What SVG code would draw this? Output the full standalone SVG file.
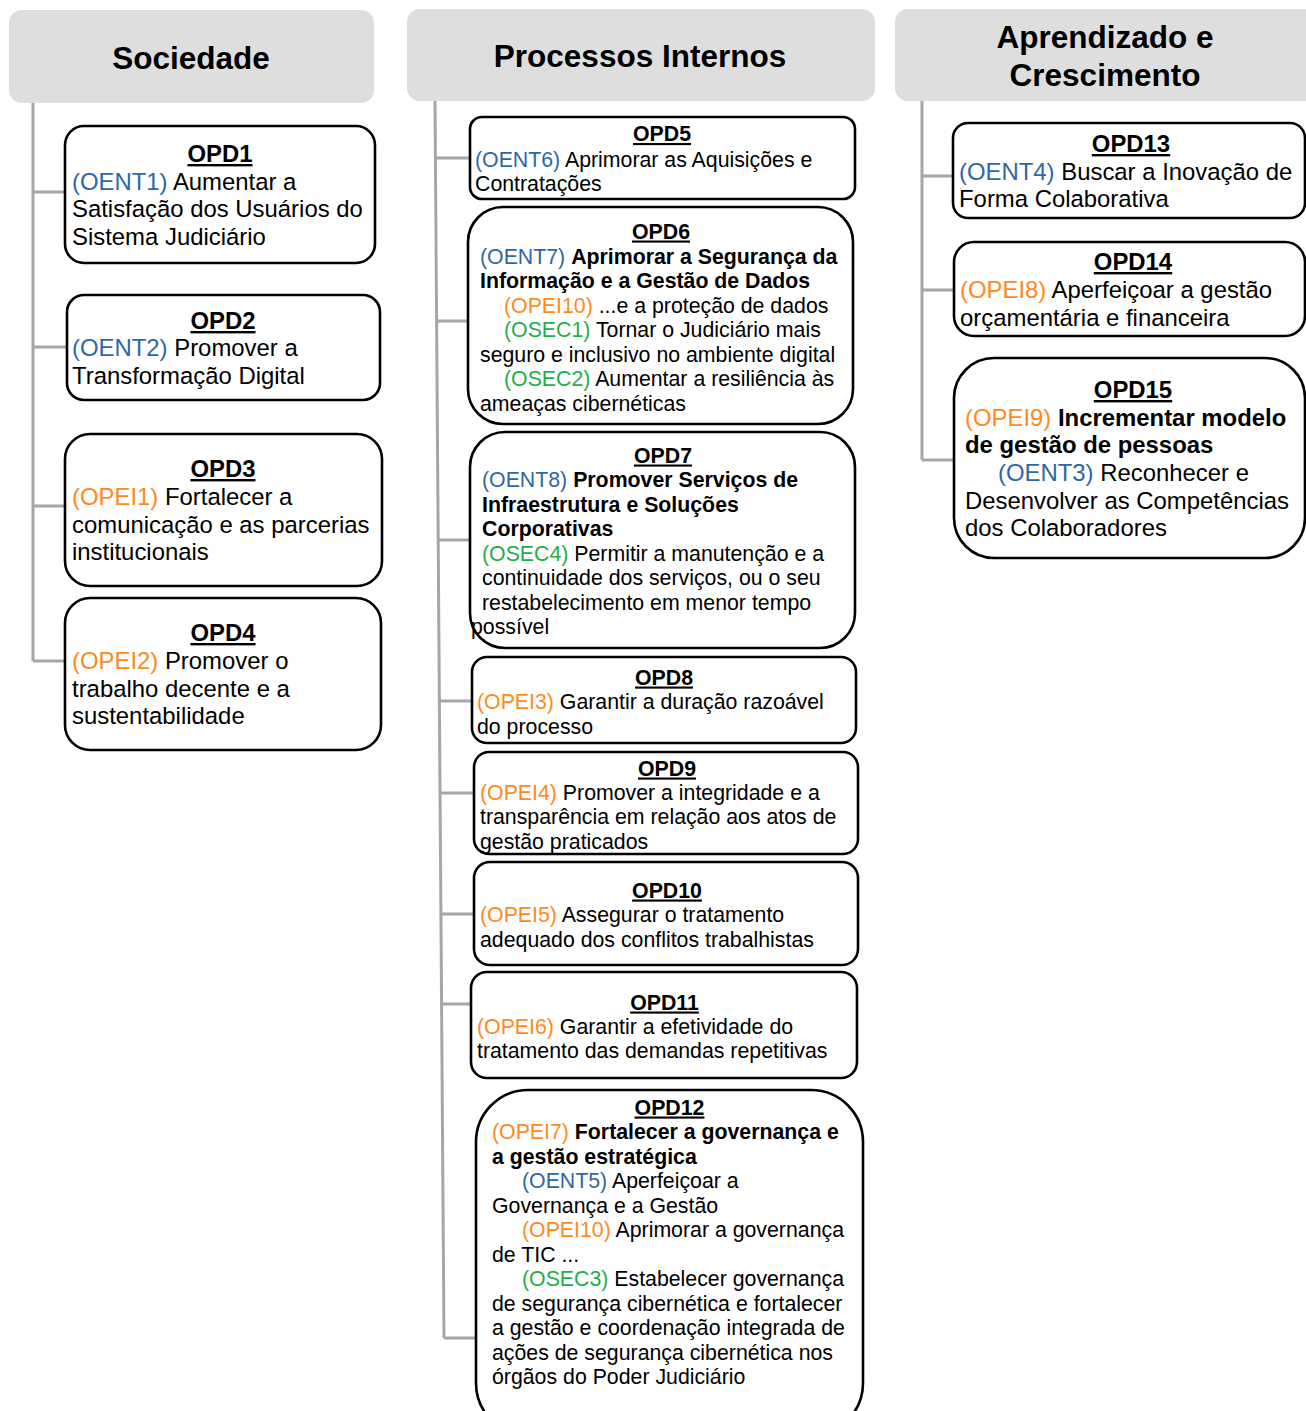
<svg xmlns="http://www.w3.org/2000/svg" width="1306" height="1411" viewBox="0 0 1306 1411">
  <style>
    text { font-family: "Liberation Sans", Arial, sans-serif; fill: #000; }
    .hdr { fill: #dedede; }
    .hdrt { font-size: 31.5px; font-weight: bold; text-anchor: middle; }
    .box { fill: #fff; stroke: #000; stroke-width: 2.6; }
    .conn { stroke: #a6a6a6; stroke-width: 3; fill: none; }
    .l { font-size: 23.9px; }
    .m { font-size: 21.3px; }
    .ttl { font-weight: bold; text-anchor: middle; text-decoration: underline; }
    .b { font-weight: bold; }
    .ent { fill: #2e67a8; }
    .pei { fill: #ff8a1c; }
    .sec { fill: #1fae48; }
  </style>

  <!-- column headers -->
  <g id="hdr-sociedade">
    <rect class="hdr" x="9" y="10" width="365" height="93" rx="13"/>
    <text class="hdrt" x="191" y="69">Sociedade</text>
  </g>
  <g id="hdr-processos">
    <rect class="hdr" x="407" y="9" width="468" height="92" rx="13"/>
    <text class="hdrt" x="640" y="67">Processos Internos</text>
  </g>
  <g id="hdr-aprendizado">
    <rect class="hdr" x="895" y="9" width="425" height="92" rx="13"/>
    <text class="hdrt" x="1105" y="48">Aprendizado e</text>
    <text class="hdrt" x="1105" y="86">Crescimento</text>
  </g>

  <!-- connectors -->
  <g id="connectors">
    <path class="conn" d="M33 103 V661 M33 192 H66 M33 347 H67 M33 506 H66 M33 661 H66"/>
    <path class="conn" d="M435 101 L444 1338 M435.4 158 H471 M436.6 321 H469 M438.2 540 H471 M439.4 701 H473 M440 793 H475 M440.9 914 H475 M441.6 1004 H472 M444 1338 H477"/>
    <path class="conn" d="M922 101 V460 M922 176 H954 M922 290 H955 M922 460 H955"/>
  </g>

  <!-- Sociedade -->
  <g id="opd1">
    <rect class="box" x="65" y="126" width="310" height="137" rx="19"/>
    <text class="l ttl" x="220" y="162">OPD1</text>
    <text class="l" x="72" y="190"><tspan class="ent">(OENT1)</tspan> Aumentar a</text>
    <text class="l" x="72" y="217">Satisfação dos Usuários do</text>
    <text class="l" x="72" y="245">Sistema Judiciário</text>
  </g>
  <g id="opd2">
    <rect class="box" x="67" y="295" width="313" height="105" rx="17"/>
    <text class="l ttl" x="223" y="329">OPD2</text>
    <text class="l" x="72" y="356"><tspan class="ent">(OENT2)</tspan> Promover a</text>
    <text class="l" x="72" y="384">Transformação Digital</text>
  </g>
  <g id="opd3">
    <rect class="box" x="65" y="434" width="317" height="152" rx="25"/>
    <text class="l ttl" x="223" y="477">OPD3</text>
    <text class="l" x="72" y="505"><tspan class="pei">(OPEI1)</tspan> Fortalecer a</text>
    <text class="l" x="72" y="533">comunicação e as parcerias</text>
    <text class="l" x="72" y="560">institucionais</text>
  </g>
  <g id="opd4">
    <rect class="box" x="65" y="598" width="316" height="152" rx="25"/>
    <text class="l ttl" x="223" y="641">OPD4</text>
    <text class="l" x="72" y="669"><tspan class="pei">(OPEI2)</tspan> Promover o</text>
    <text class="l" x="72" y="697">trabalho decente e a</text>
    <text class="l" x="72" y="724">sustentabilidade</text>
  </g>

  <!-- Processos Internos -->
  <g id="opd5">
    <rect class="box" x="470" y="117" width="385" height="82" rx="12"/>
    <text class="m ttl" x="662" y="141">OPD5</text>
    <text class="m" x="475" y="166.5"><tspan class="ent">(OENT6)</tspan> Aprimorar as Aquisições e</text>
    <text class="m" x="475" y="190.5">Contratações</text>
  </g>
  <g id="opd6">
    <rect class="box" x="468" y="207" width="385" height="217" rx="35"/>
    <text class="m ttl" x="661" y="238.5">OPD6</text>
    <text class="m" x="480" y="263.5"><tspan class="ent">(OENT7)</tspan> <tspan class="b">Aprimorar a Segurança da</tspan></text>
    <text class="m b" x="480" y="287.5">Informação e a Gestão de Dados</text>
    <text class="m" x="504" y="312.5"><tspan class="pei">(OPEI10)</tspan> ...e a proteção de dados</text>
    <text class="m" x="504" y="336.5"><tspan class="sec">(OSEC1)</tspan> Tornar o Judiciário mais</text>
    <text class="m" x="480" y="361.5">seguro e inclusivo no ambiente digital</text>
    <text class="m" x="504" y="385.5"><tspan class="sec">(OSEC2)</tspan> Aumentar a resiliência às</text>
    <text class="m" x="480" y="410.5">ameaças cibernéticas</text>
  </g>
  <g id="opd7">
    <rect class="box" x="470" y="432" width="385" height="216" rx="35"/>
    <text class="m ttl" x="663" y="462.5">OPD7</text>
    <text class="m" x="482" y="486.5"><tspan class="ent">(OENT8)</tspan> <tspan class="b">Promover Serviços de</tspan></text>
    <text class="m b" x="482" y="511.5">Infraestrutura e Soluções</text>
    <text class="m b" x="482" y="535.5">Corporativas</text>
    <text class="m" x="482" y="560.5"><tspan class="sec">(OSEC4)</tspan> Permitir a manutenção e a</text>
    <text class="m" x="482" y="585">continuidade dos serviços, ou o seu</text>
    <text class="m" x="482" y="609.5">restabelecimento em menor tempo</text>
    <text class="m" x="471" y="634">possível</text>
  </g>
  <g id="opd8">
    <rect class="box" x="472" y="657" width="384" height="86" rx="15"/>
    <text class="m ttl" x="664" y="684.5">OPD8</text>
    <text class="m" x="477" y="708.5"><tspan class="pei">(OPEI3)</tspan> Garantir a duração razoável</text>
    <text class="m" x="477" y="733.5">do processo</text>
  </g>
  <g id="opd9">
    <rect class="box" x="474" y="752" width="384" height="102" rx="15"/>
    <text class="m ttl" x="667" y="775.5">OPD9</text>
    <text class="m" x="480" y="799.5"><tspan class="pei">(OPEI4)</tspan> Promover a integridade e a</text>
    <text class="m" x="480" y="824">transparência em relação aos atos de</text>
    <text class="m" x="480" y="848.5">gestão praticados</text>
  </g>
  <g id="opd10">
    <rect class="box" x="474" y="862" width="384" height="103" rx="16"/>
    <text class="m ttl" x="667" y="897.5">OPD10</text>
    <text class="m" x="480" y="922"><tspan class="pei">(OPEI5)</tspan> Assegurar o tratamento</text>
    <text class="m" x="480" y="946.5">adequado dos conflitos trabalhistas</text>
  </g>
  <g id="opd11">
    <rect class="box" x="471" y="972" width="386" height="106" rx="16"/>
    <text class="m ttl" x="664.5" y="1009.5">OPD11</text>
    <text class="m" x="477" y="1033.5"><tspan class="pei">(OPEI6)</tspan> Garantir a efetividade do</text>
    <text class="m" x="477" y="1058">tratamento das demandas repetitivas</text>
  </g>
  <g id="opd12">
    <rect class="box" x="476" y="1090" width="387" height="345" rx="52"/>
    <text class="m ttl" x="669.5" y="1114.5">OPD12</text>
    <text class="m" x="492" y="1139"><tspan class="pei">(OPEI7)</tspan> <tspan class="b">Fortalecer a governança e</tspan></text>
    <text class="m b" x="492" y="1164">a gestão estratégica</text>
    <text class="m" x="522" y="1188"><tspan class="ent">(OENT5)</tspan> Aperfeiçoar a</text>
    <text class="m" x="492" y="1213">Governança e a Gestão</text>
    <text class="m" x="522" y="1237"><tspan class="pei">(OPEI10)</tspan> Aprimorar a governança</text>
    <text class="m" x="492" y="1262">de TIC ...</text>
    <text class="m" x="522" y="1286"><tspan class="sec">(OSEC3)</tspan> Estabelecer governança</text>
    <text class="m" x="492" y="1311">de segurança cibernética e fortalecer</text>
    <text class="m" x="492" y="1335">a gestão e coordenação integrada de</text>
    <text class="m" x="492" y="1360">ações de segurança cibernética nos</text>
    <text class="m" x="492" y="1384">órgãos do Poder Judiciário</text>
  </g>

  <!-- Aprendizado e Crescimento -->
  <g id="opd13">
    <rect class="box" x="953" y="123" width="352" height="95" rx="15"/>
    <text class="l ttl" x="1131" y="152">OPD13</text>
    <text class="l" x="959" y="180"><tspan class="ent">(OENT4)</tspan> Buscar a Inovação de</text>
    <text class="l" x="959" y="207">Forma Colaborativa</text>
  </g>
  <g id="opd14">
    <rect class="box" x="954" y="242" width="351" height="94" rx="20"/>
    <text class="l ttl" x="1133" y="270">OPD14</text>
    <text class="l" x="960" y="298"><tspan class="pei">(OPEI8)</tspan> Aperfeiçoar a gestão</text>
    <text class="l" x="960" y="326">orçamentária e financeira</text>
  </g>
  <g id="opd15">
    <rect class="box" x="954" y="358" width="351" height="200" rx="40"/>
    <text class="l ttl" x="1133" y="398">OPD15</text>
    <text class="l" x="965" y="426"><tspan class="pei">(OPEI9)</tspan> <tspan class="b">Incrementar modelo</tspan></text>
    <text class="l b" x="965" y="453">de gestão de pessoas</text>
    <text class="l" x="998" y="481"><tspan class="ent">(OENT3)</tspan> Reconhecer e</text>
    <text class="l" x="965" y="509">Desenvolver as Competências</text>
    <text class="l" x="965" y="536">dos Colaboradores</text>
  </g>
</svg>
